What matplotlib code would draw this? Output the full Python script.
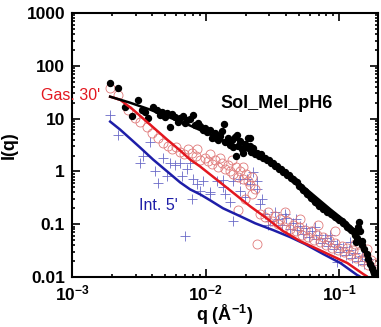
import numpy as np
import matplotlib
matplotlib.use('Agg')
import matplotlib.pyplot as plt
from matplotlib.ticker import LogLocator, NullFormatter, FixedLocator, FixedFormatter

plt.rcParams['font.family'] = ['Liberation Sans', 'DejaVu Sans']
plt.rcParams['mathtext.fontset'] = 'custom'
plt.rcParams['mathtext.rm'] = 'Liberation Sans'
plt.rcParams['mathtext.bf'] = 'Liberation Sans:bold'

# Sol_Mel_pH6 data (black dots)
q_sol = [0.00193, 0.00221, 0.00249, 0.00281, 0.00312, 0.00352, 0.00404, 0.00433, 0.00472, 0.00515,
         0.00542, 0.00591, 0.00644, 0.00727, 0.00806, 0.00879, 0.00957, 0.0103, 0.00456, 0.00497,
         0.00561, 0.00678, 0.00765, 0.00834, 0.00909, 0.00991, 0.00371, 0.00334, 0.00702, 0.00622,
         0.0108, 0.0112, 0.0118, 0.0124, 0.0128, 0.0133, 0.0137, 0.0140, 0.0147, 0.0153,
         0.0158, 0.0166, 0.0172, 0.0175, 0.0181, 0.0187, 0.0191, 0.0198, 0.0205, 0.0208,
         0.0215, 0.0219, 0.0227, 0.0235, 0.0215, 0.0120, 0.0161, 0.0169,
         0.0243, 0.0252, 0.0260, 0.0270, 0.0279, 0.0289, 0.0299, 0.0309, 0.0321, 0.0332,
         0.0344, 0.0355, 0.0367, 0.0380, 0.0394, 0.0408, 0.0423, 0.0437, 0.0453, 0.0468,
         0.0484, 0.0501, 0.0519, 0.0537, 0.0556, 0.0576, 0.0596, 0.0618, 0.0639, 0.0661,
         0.0684, 0.0708, 0.0734, 0.0759, 0.0786, 0.0814, 0.0842, 0.0872, 0.0903, 0.0934,
         0.0967, 0.100, 0.104, 0.107, 0.111, 0.115, 0.119, 0.123, 0.127, 0.132,
         0.136, 0.141, 0.144, 0.147, 0.149, 0.154, 0.160, 0.165, 0.171, 0.177,
         0.183, 0.189, 0.139, 0.134]
I_sol = [47.8, 38.5, 16.8, 11.4, 22.8, 13.6, 16.8, 14.8, 13.6, 13.0,
         7.06, 10.9, 10.4, 9.57, 11.9, 8.41, 6.20, 5.69, 11.9, 10.9,
         12.4, 11.4, 10.0, 7.70, 7.38, 6.76, 10.4, 14.8, 8.41, 8.78,
         6.20, 4.38, 5.44, 4.01, 4.78, 5.94, 8.05, 3.68, 4.38, 3.23,
         4.01, 4.58, 4.99, 3.09, 3.84, 2.60, 2.28, 3.37, 2.84, 4.20,
         3.09, 2.38, 2.72, 2.09, 4.38, 4.38, 2.96, 2.00,
         2.28, 1.92, 2.09, 1.76, 1.83, 1.61, 1.61, 1.42, 1.42, 1.24,
         1.24, 1.09, 1.09, 0.957, 0.957, 0.840, 0.840, 0.738, 0.706, 0.647,
         0.620, 0.521, 0.499, 0.438, 0.419, 0.368, 0.352, 0.310, 0.296, 0.260,
         0.249, 0.219, 0.219, 0.192, 0.192, 0.169, 0.169, 0.154, 0.148, 0.136,
         0.130, 0.119, 0.114, 0.104, 0.100, 0.0878, 0.0841, 0.0771, 0.0738, 0.0620,
         0.0544, 0.109, 0.0738, 0.0478, 0.0401, 0.0338, 0.0272, 0.0219, 0.0176, 0.0147,
         0.0124, 0.0104, 0.0878, 0.0457]

# Gas. 30' data (open circles)
q_gas = [0.00193, 0.00221, 0.00262, 0.00296, 0.00323, 0.00364, 0.00397, 0.00440, 0.00480, 0.00523,
         0.00561, 0.00601, 0.00644, 0.00690, 0.00739, 0.00792, 0.00849, 0.00909, 0.00991, 0.0104,
         0.0112, 0.0118, 0.0124, 0.0133, 0.0140, 0.0147, 0.0153, 0.0161, 0.0169, 0.0175,
         0.0181, 0.0191, 0.0201, 0.0208, 0.0215, 0.0222, 0.0235, 0.0243, 0.0175, 0.0198,
         0.0222, 0.00863, 0.0108, 0.0128, 0.0158, 0.0191,
         0.0256, 0.0279, 0.0294, 0.0315, 0.0332, 0.0350, 0.0361, 0.0387, 0.0408, 0.0430,
         0.0453, 0.0476, 0.0501, 0.0528, 0.0556, 0.0586, 0.0618, 0.0650, 0.0684, 0.0721,
         0.0759, 0.0800, 0.0842, 0.0887, 0.0934, 0.0984, 0.104, 0.109, 0.115, 0.121,
         0.127, 0.134, 0.141, 0.149, 0.157, 0.165, 0.174, 0.183, 0.189, 0.0394,
         0.0510, 0.0696, 0.0934, 0.132, 0.160]
I_gas = [38.5, 28.4, 14.8, 10.4, 8.78, 7.06, 5.44, 4.38, 3.52, 3.09,
         2.60, 2.84, 2.38, 2.09, 2.60, 2.28, 2.00, 1.68, 1.83, 1.55,
         1.36, 1.68, 1.19, 1.47, 1.09, 1.30, 1.00, 0.878, 1.19, 0.771,
         1.00, 0.706, 0.878, 0.647, 0.544, 0.771, 0.457, 0.0419, 0.184, 0.296,
         0.368, 2.60, 2.09, 1.83, 1.68, 1.19,
         0.154, 0.136, 0.169, 0.114, 0.142, 0.100, 0.124, 0.0878, 0.114, 0.0805,
         0.0958, 0.0738, 0.0878, 0.0620, 0.0771, 0.0569, 0.0738, 0.0499, 0.0620, 0.0457,
         0.0569, 0.0401, 0.0499, 0.0353, 0.0438, 0.0324, 0.0384, 0.0297, 0.0353, 0.0260,
         0.0324, 0.0229, 0.0284, 0.0201, 0.0239, 0.0169, 0.0210, 0.0142, 0.0184, 0.169,
         0.124, 0.0958, 0.0738, 0.0419, 0.0338]

# Int. 5' data (plus)
q_int = [0.00193, 0.00221, 0.00384, 0.00340, 0.00480, 0.00542, 0.00644, 0.00765, 0.00323, 0.00418,
         0.00515, 0.00667, 0.00440, 0.00702, 0.00792, 0.00863, 0.00806, 0.00909, 0.0108, 0.0122,
         0.0135, 0.0161, 0.0153, 0.0181, 0.0205, 0.0215, 0.0243, 0.0243, 0.0226, 0.0108,
         0.0135, 0.0161, 0.0181, 0.0265, 0.00957, 0.00591, 0.00727, 0.0140, 0.0198,
         0.0279, 0.0304, 0.0332, 0.0350, 0.0374, 0.0401, 0.0430, 0.0453, 0.0484, 0.0510,
         0.0537, 0.0566, 0.0596, 0.0628, 0.0673, 0.0708, 0.0746, 0.0786, 0.0828, 0.0872,
         0.0918, 0.0967, 0.102, 0.107, 0.113, 0.119, 0.125, 0.132, 0.139, 0.147,
         0.154, 0.163, 0.0967, 0.0294, 0.0256, 0.0394, 0.0476, 0.0661, 0.0857, 0.121,
         0.177]
I_int = [11.9, 4.99, 3.68, 1.92, 1.83, 1.47, 1.47, 1.47, 1.47, 1.00,
         0.805, 0.805, 0.593, 0.0594, 0.296, 0.568, 0.706, 0.419, 0.400, 0.647,
         0.676, 0.114, 0.260, 0.706, 0.706, 0.568, 0.647, 0.457, 0.957, 0.368,
         0.499, 0.647, 0.419, 0.296, 0.647, 1.30, 1.09, 0.368, 0.323,
         0.154, 0.114, 0.169, 0.124, 0.0958, 0.130, 0.0805, 0.104, 0.0771, 0.0917,
         0.0648, 0.0841, 0.0569, 0.0738, 0.0521, 0.0620, 0.0438, 0.0544, 0.0384, 0.0478,
         0.0338, 0.0419, 0.0297, 0.0368, 0.0260, 0.0324, 0.0229, 0.0284, 0.0201, 0.0249,
         0.0176, 0.0219, 0.0192, 0.0958, 0.238, 0.154, 0.124, 0.0878, 0.0620, 0.0457,
         0.0169]

# fit curves
q_fit_sol = [0.00193, 0.00272, 0.00384, 0.00542, 0.00765, 0.0108, 0.0153, 0.0215, 0.0304, 0.0430,
             0.0607, 0.0857, 0.111, 0.132, 0.150, 0.164, 0.178]
I_fit_sol = [26.0, 20.0, 14.8, 10.4, 7.38, 4.99, 3.37, 2.38, 1.55, 0.84,
             0.40, 0.192, 0.114, 0.074, 0.042, 0.020, 0.0104]

q_fit_gas = [0.00193, 0.00229, 0.00286, 0.00384, 0.00515, 0.00644, 0.00765, 0.00909, 0.0108, 0.0140,
             0.0215, 0.0279, 0.0380, 0.0510, 0.0639, 0.0857, 0.115, 0.151, 0.160]
I_fit_gas = [26.0, 22.8, 14.8, 7.70, 4.01, 2.49, 1.68, 1.24, 0.878, 0.521,
             0.219, 0.136, 0.074, 0.0478, 0.0368, 0.0260, 0.0184, 0.0114, 0.0104]

q_fit_int = [0.00193, 0.00229, 0.00272, 0.00323, 0.00404, 0.00515, 0.00644, 0.00765, 0.00909, 0.0108,
             0.0135, 0.0181, 0.0235, 0.0321, 0.0430, 0.0556, 0.0759, 0.102, 0.136, 0.141]
I_fit_int = [8.78, 6.20, 4.20, 2.84, 1.68, 1.00, 0.620, 0.457, 0.368, 0.284,
             0.200, 0.142, 0.104, 0.0771, 0.0569, 0.0419, 0.0272, 0.0184, 0.0109, 0.0104]

red = '#e3171f'
blue = '#1e1ea8'

fig = plt.figure(figsize=(3.81, 3.27), dpi=100)
ax = fig.add_axes([72/381, 1 - 277/327, 306/381, 264/327])

ax.plot(q_int, I_int, '+', color='#6a6ac8', markersize=6.5, markeredgewidth=0.6)
ax.plot(q_gas, I_gas, 'o', mfc='none', mec='#e07a7a', markersize=6.5, markeredgewidth=0.6)
ax.plot(q_sol, I_sol, 'o', color='black', markersize=4.3)
ax.plot(q_fit_int, I_fit_int, '-', color=blue, lw=1.8)
ax.plot(q_fit_gas, I_fit_gas, '-', color=red, lw=1.8)
ax.plot(q_fit_sol, I_fit_sol, '-', color='black', lw=1.8)

ax.set_xscale('log')
ax.set_yscale('log')
ax.set_xlim(1e-3, 0.195)
ax.set_ylim(0.01, 1000)

ax.yaxis.set_major_locator(FixedLocator([0.01, 0.1, 1, 10, 100, 1000]))
ax.yaxis.set_major_formatter(FixedFormatter(['0.01', '0.1', '1', '10', '100', '1000']))
ax.xaxis.set_major_locator(FixedLocator([1e-3, 1e-2, 1e-1]))
ax.xaxis.set_major_formatter(FixedFormatter([r'$\mathbf{10^{-3}}$', r'$\mathbf{10^{-2}}$', r'$\mathbf{10^{-1}}$']))
ax.xaxis.set_minor_locator(LogLocator(base=10, subs=np.arange(2, 10), numticks=20))
ax.yaxis.set_minor_locator(LogLocator(base=10, subs=np.arange(2, 10), numticks=20))
ax.xaxis.set_minor_formatter(NullFormatter())
ax.yaxis.set_minor_formatter(NullFormatter())

ax.tick_params(which='both', direction='in', top=True, right=True, width=1.2)
ax.tick_params(which='major', length=5.5)
ax.tick_params(which='minor', length=2.5)
ax.tick_params(axis='y', pad=5)
ax.tick_params(axis='x', pad=4.5)
for lab in ax.get_yticklabels():
    lab.set_fontsize(12.5)
    lab.set_fontweight('bold')
for lab in ax.get_xticklabels():
    lab.set_fontsize(12.5)
for sp in ax.spines.values():
    sp.set_linewidth(1.5)

ax.set_ylabel('I(q)', fontsize=13, fontweight='bold', labelpad=6)
ax.set_xlabel(r'q (Å$^{\mathbf{-1}}$)', fontsize=13, fontweight='bold', labelpad=0)

fig.text(277/381, 1 - 104/327, 'Sol_Mel_pH6', fontsize=13, fontweight='bold', ha='center', va='center')
fig.text(100/381, 1 - 95/327, "Gas. 30'", fontsize=11.5, color=red, ha='right', va='center')
fig.text(158/381, 1 - 206/327, "Int. 5'", fontsize=11.5, color=blue, ha='center', va='center')

fig.savefig('out.png', dpi=100)
